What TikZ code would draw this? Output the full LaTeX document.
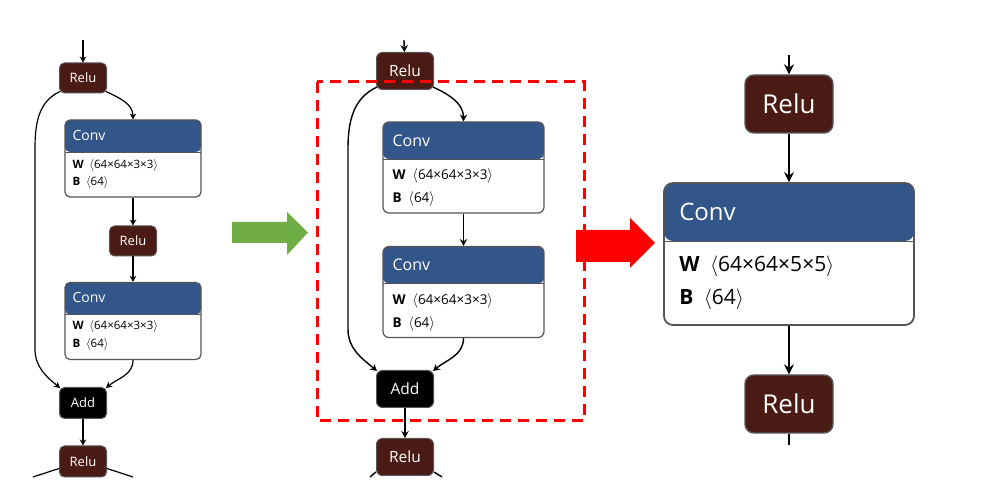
\documentclass[tikz,border=0pt]{standalone}
\usepackage{fontspec}
\setmainfont{Open Sans}
\usetikzlibrary{arrows.meta,positioning,calc}
\definecolor{relubrown}{HTML}{4A1B15}
\definecolor{convblue}{HTML}{33568A}
\definecolor{edgegray}{HTML}{555555}
\definecolor{arrowgreen}{HTML}{70AD47}
\newcommand{\shp}[1]{\hspace{0.5em}$\langle$#1$\rangle$}
\tikzset{
  op/.style={draw=edgegray, text=white, inner sep=0pt, line width=1pt},
  relu/.style={op, fill=relubrown},
  addop/.style={op, fill=black},
  sizeS/.style={minimum width=47pt, minimum height=30pt, rounded corners=5pt, font=\fontsize{13}{15}\selectfont},
  sizeM/.style={minimum width=57pt, minimum height=37pt, rounded corners=6pt, font=\fontsize{15.5}{18}\selectfont},
  sizeL/.style={minimum width=88pt, minimum height=58pt, rounded corners=9pt, font=\fontsize{26}{30}\selectfont},
  conv/.style={draw=edgegray, fill=white, inner sep=0pt, line width=1.2pt,
    path picture={\fill[convblue] (path picture bounding box.north west) rectangle ([yshift=-#1]path picture bounding box.north east);
      \draw[edgegray, line width=.8pt] ([yshift=-#1]path picture bounding box.north west) -- ([yshift=-#1]path picture bounding box.north east);}},
  hd/.style={anchor=west, text=white, inner sep=0pt},
  par/.style={anchor=west, inner sep=0pt},
  edS/.style={-{Stealth[length=6pt,width=6.5pt,inset=2pt]}, line width=1.2pt},
  edM/.style={-{Stealth[length=7pt,width=7.5pt,inset=2.5pt]}, line width=1.4pt},
  edL/.style={-{Stealth[length=10pt,width=10pt,inset=3.5pt]}, line width=2pt},
}
\begin{document}
\begin{tikzpicture}[x=1pt, y=1pt]
\useasboundingbox (0,0) rectangle (986,489);

% left: original block
\node[relu, sizeS] (l-r1) at (83,411) {Relu};
\foreach \n/\y/\w/\b in {l-c1/330.5/46/63, l-c2/168/45/63}
{
    \node[conv=32pt, minimum width=136pt, minimum height=77pt, rounded corners=5pt] (\n) at (133,\y) {};
    \node[hd, font=\fontsize{14}{16}\selectfont] (\n-h) at ([xshift=8pt,yshift=-16pt]\n.north west) {Conv};
    \node[par, font=\fontsize{11.5}{13}\selectfont] (\n-w) at ([xshift=8pt,yshift=-\w pt]\n.north west) {\textbf{W}\shp{64×64×3×3}};
    \node[par, font=\fontsize{11.5}{13}\selectfont] (\n-b) at ([xshift=8pt,yshift=-\b pt]\n.north west) {\textbf{B}\shp{64}};
}
\node[relu, sizeS] (l-r2) at (133,248) {Relu};
\node[addop, sizeS, minimum height=31pt] (l-add) at (83,86) {Add};
\node[relu, sizeS, minimum height=31pt] (l-r3) at (83,27.5) {Relu};
\coordinate (l-in) at (83,449);
\coordinate (l-s1) at (35,340);
\coordinate (l-s2) at (35,140);
\coordinate (l-o1) at (33,12);
\coordinate (l-o2) at (133,12);

\draw[edS] (l-in) -- (l-r1);
\draw[edS] ([xshift=-1pt,yshift=2pt]l-r1.south east) to[out=-25,in=90] (l-c1.north);
\draw[edS] (l-c1) -- (l-r2);
\draw[edS] (l-r2) -- (l-c2);
\draw[edS] (l-c2.south) to[out=-90,in=40] ([xshift=-1pt,yshift=-1pt]l-add.north east);
\draw[edS] ([xshift=1pt,yshift=2pt]l-r1.south west) to[out=205,in=90] (l-s1) -- (l-s2) to[out=-90,in=140] ([xshift=1pt,yshift=-1pt]l-add.north west);
\draw[edS] (l-add) -- (l-r3);
\draw[line width=1.2pt] ([yshift=9pt]l-r3.south west) -- (l-o1);
\draw[line width=1.2pt] ([yshift=9pt]l-r3.south east) -- (l-o2);

% green arrow
\fill[arrowgreen] (232,267) -- (287,267) -- (287,277) -- (308,256.5) -- (287,234) -- (287,246) -- (232,246) -- cycle;

% middle: marked block
\node[relu, sizeM] (m-r1) at (405,418) {Relu};
\foreach \n/\y in {m-c1/321.5, m-c2/197}
{
    \node[conv=37pt, minimum width=161pt, minimum height=91pt, rounded corners=6pt] (\n) at (463.5,\y) {};
    \node[hd, font=\fontsize{16}{19}\selectfont] (\n-h) at ([xshift=10pt,yshift=-19pt]\n.north west) {Conv};
    \node[par, font=\fontsize{13.5}{15}\selectfont] (\n-w) at ([xshift=10pt,yshift=-55pt]\n.north west) {\textbf{W}\shp{64×64×3×3}};
    \node[par, font=\fontsize{13.5}{15}\selectfont] (\n-b) at ([xshift=10pt,yshift=-78pt]\n.north west) {\textbf{B}\shp{64}};
}
\node[addop, sizeM] (m-add) at (405,100) {Add};
\node[relu, sizeM] (m-r2) at (405,32) {Relu};
\coordinate (m-in) at (404,449);
\coordinate (m-s1) at (348,340);
\coordinate (m-s2) at (348,160);
\coordinate (m-o1) at (370,12);
\coordinate (m-o2) at (442,12);

\draw[edM] (m-in) -- (m-r1);
\draw[edM] ([xshift=-1pt,yshift=3pt]m-r1.south east) to[out=-25,in=90] (m-c1.north);
\draw[edM] (m-c1) -- (m-c2);
\draw[edM] (m-c2.south) to[out=-90,in=40] ([xshift=-1pt,yshift=-1pt]m-add.north east);
\draw[edM] ([xshift=1pt,yshift=3pt]m-r1.south west) to[out=205,in=90] (m-s1) -- (m-s2) to[out=-90,in=140] ([xshift=1pt,yshift=-1pt]m-add.north west);
\draw[edM] (m-add) -- (m-r2);
\draw[line width=1.4pt] ([yshift=4pt]m-r2.south west) -- (m-o1);
\draw[line width=1.4pt] ([yshift=4pt]m-r2.south east) -- (m-o2);
\draw[red, line width=3pt, dash pattern=on 11pt off 7pt] (317,407) rectangle (584,68);

% red arrow
\fill[red] (576,259) -- (630,259) -- (630,271) -- (655,246) -- (630,221) -- (630,227) -- (576,227) -- cycle;

% right: merged block
\node[relu, sizeL, line width=1.4pt] (r-r1) at (789,385) {Relu};
\node[conv=58pt, minimum width=250pt, minimum height=142pt, rounded corners=9pt, line width=1.8pt] (r-c) at (789,235) {};
\node[hd, font=\fontsize{24}{28}\selectfont] (r-c-h) at ([xshift=16pt,yshift=-30pt]r-c.north west) {Conv};
\node[par, font=\fontsize{21}{24}\selectfont] (r-c-w) at ([xshift=16pt,yshift=-84pt]r-c.north west) {\textbf{W}\shp{64×64×5×5}};
\node[par, font=\fontsize{21}{24}\selectfont] (r-c-b) at ([xshift=16pt,yshift=-117pt]r-c.north west) {\textbf{B}\shp{64}};
\node[relu, sizeL, line width=1.4pt] (r-r2) at (789,85) {Relu};
\coordinate (r-in) at (789,434);
\coordinate (r-out) at (789,44);

\draw[edL] (r-in) -- (r-r1);
\draw[edL] (r-r1) -- (r-c);
\draw[edL] (r-c) -- (r-r2);
\draw[line width=2pt] (r-r2) -- (r-out);

\end{tikzpicture}
\end{document}
